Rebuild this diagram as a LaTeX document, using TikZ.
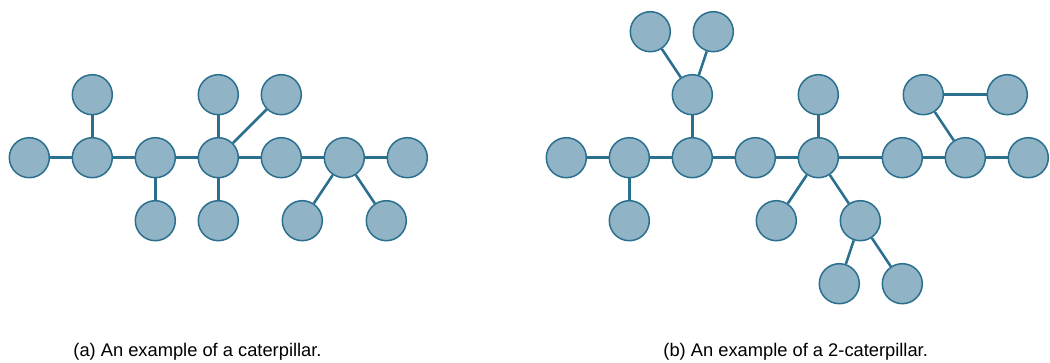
\documentclass[tikz,border=0pt]{standalone}
\usepackage{fontspec}
\setmainfont{Liberation Sans}
\usetikzlibrary{positioning}
\definecolor{vfill}{RGB}{145,179,198}
\definecolor{vline}{RGB}{43,111,143}

\begin{document}
\begin{tikzpicture}[x=1pt,y=-1pt,node distance=63pt,on grid,every node/.style={font=\fontsize{18.3}{22}\selectfont}]
    	\tikzstyle{v}=[circle,draw=vline,fill=vfill,line width=1.5pt,minimum size=40pt,inner sep=0pt]
    	\tikzstyle{e}=[vline,line width=2.6pt]
    \useasboundingbox (0,0) rectangle (1050,363);
    % (a) caterpillar: spine and legs
    \node[v] (c1) at (29.3,157.7) {};
    \node[v,right=of c1] (c2) {};
    \node[v,right=of c2] (c3) {};
    \node[v,right=of c3] (c4) {};
    \node[v,right=of c4] (c5) {};
    \node[v,right=of c5] (c6) {};
    \node[v,right=of c6] (c7) {};
    \node[v,above=of c2] (a1) {};
    \node[v,above=of c4] (a2) {};
    \node[v,above=of c4,xshift=63pt] (a3) {};
    \node[v,below=of c3] (b1) {};
    \node[v,below=of c4] (b2) {};
    \node[v,below=of c6,xshift=-42pt] (b3) {};
    \node[v,below=of c6,xshift=42pt] (b4) {};
    \draw[e] (c1) -- (c2) -- (c3) -- (c4) -- (c5) -- (c6) -- (c7);
    \draw[e] (c2) -- (a1);
    \draw[e] (c4) -- (a2);
    \draw[e] (c4) -- (a3);
    \draw[e] (c3) -- (b1);
    \draw[e] (c4) -- (b2);
    \draw[e] (c6) -- (b3);
    \draw[e] (c6) -- (b4);
    % (b) 2-caterpillar
    \node[v] (s1) at (566.3,157.7) {};
    \node[v,right=of s1] (s2) {};
    \node[v,right=of s2] (s3) {};
    \node[v,right=of s3] (s4) {};
    \node[v,right=of s4] (s5) {};
    \node[v,right=84pt of s5] (s6) {};
    \node[v,right=of s6] (s7) {};
    \node[v,right=of s7] (s8) {};
    \node[v,below=of s2] (t1) {};
    \node[v,above=of s3] (t2) {};
    \node[v,above=of t2,xshift=-42pt] (t3) {};
    \node[v,above=of t2,xshift=21pt] (t4) {};
    \node[v,above=of s5] (t5) {};
    \node[v,below=of s5,xshift=-42pt] (t6) {};
    \node[v,below=of s5,xshift=42pt] (t7) {};
    \node[v,below=of t7,xshift=-21pt] (t8) {};
    \node[v,below=of t7,xshift=42pt] (t9) {};
    \node[v,above=of s7,xshift=-42pt] (t10) {};
    \node[v,right=84pt of t10] (t11) {};
    \draw[e] (s1) -- (s2) -- (s3) -- (s4) -- (s5) -- (s6) -- (s7) -- (s8);
    \draw[e] (s2) -- (t1);
    \draw[e] (s3) -- (t2);
    \draw[e] (t2) -- (t3);
    \draw[e] (t2) -- (t4);
    \draw[e] (s5) -- (t5);
    \draw[e] (s5) -- (t6);
    \draw[e] (s5) -- (t7);
    \draw[e] (t7) -- (t8);
    \draw[e] (t7) -- (t9);
    \draw[e] (s7) -- (t10);
    \draw[e] (t10) -- (t11);
    % captions
    \node[anchor=base] (capa) at (197.5,356) {(a) An example of a caterpillar.};
    \node[anchor=base] (capb) at (795.7,356) {(b) An example of a 2-caterpillar.};
\end{tikzpicture}
\end{document}
